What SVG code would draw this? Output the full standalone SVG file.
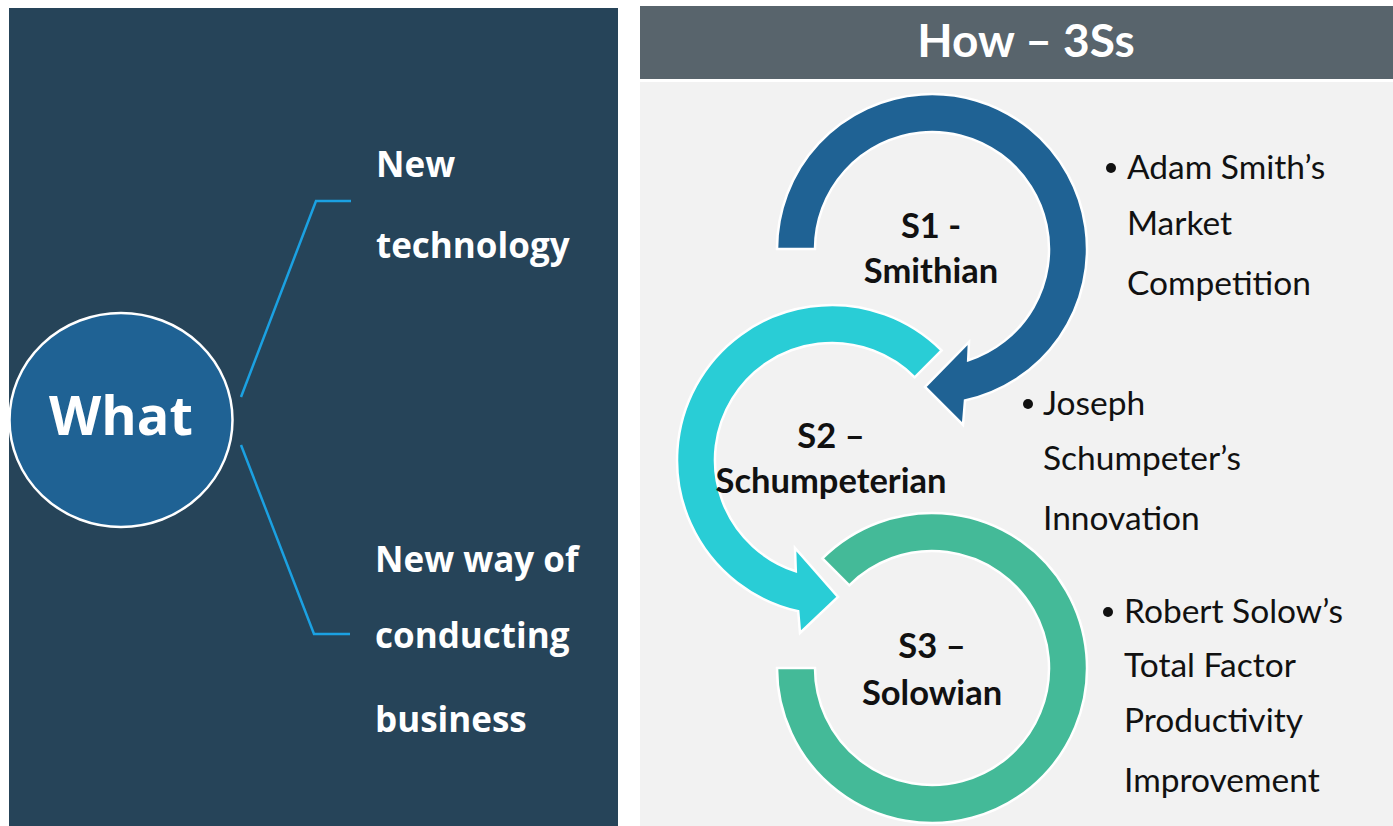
<svg xmlns="http://www.w3.org/2000/svg" width="1393" height="826" viewBox="0 0 1393 826">
<style>
.lt{font-family:"Open Sans","DejaVu Sans",sans-serif;font-weight:700;fill:#fff;font-size:35px}
.hd{font-family:Lato,"Liberation Sans",sans-serif;font-weight:700;fill:#fff;font-size:46px}
.lb{font-family:Lato,"Liberation Sans",sans-serif;font-weight:700;fill:#111;font-size:34.5px;text-anchor:middle}
.bt{font-family:Lato,"Liberation Sans",sans-serif;font-weight:400;fill:#111;font-size:33.5px}
.arr{stroke:#fff;stroke-width:2.5;stroke-linejoin:miter}
.con{fill:none;stroke:#1BA1E2;stroke-width:2.5}
</style>
<rect width="1393" height="826" fill="#fff"/>
<rect x="9" y="8" width="609" height="818" fill="#264459"/>
<rect x="640" y="82" width="753" height="744" fill="#F2F2F2"/>
<g id="header">
<rect x="640" y="6" width="753" height="73" fill="#58646C"/>
<text class="hd" x="1026" y="57" text-anchor="middle">How – 3Ss</text>
</g>
<g id="connectors">
<polyline class="con" points="241,397 316,201 351,201"/>
<polyline class="con" points="241,445 314,634 350,634"/>
</g>
<g id="what">
<ellipse cx="121" cy="420" rx="111.5" ry="107" fill="#1F6294" stroke="#fff" stroke-width="2.5"/>
<text class="lt" x="121" y="435" text-anchor="middle" style="font-size:54px">What</text>
</g>
<g id="new-technology">
<text class="lt" x="376" y="177">New</text>
<text class="lt" x="376" y="258">technology</text>
</g>
<g id="new-way">
<text class="lt" x="375" y="572">New way of</text>
<text class="lt" x="375" y="648">conducting</text>
<text class="lt" x="375" y="732">business</text>
</g>
<g id="s1">
<path class="arr" fill="#1F6294" d="M777,249 A155,155 0 1 1 965,400.5 L963,425 L925,387 L969,342 L968.2,360.3 A117,117 0 1 0 815,249 Z"/>
<text class="lb" x="931" y="238">S1 -</text>
<text class="lb" x="931" y="283">Smithian</text>
</g>
<g id="s2">
<path class="arr" fill="#29CDD6" d="M941.6,350.4 A155,155 0 1 0 798.2,611.3 L800,633 L838,597 L795,548 L795.8,571.3 A117,117 0 1 1 914.7,377.3 Z"/>
<text class="lb" x="831" y="448">S2 –</text>
<text class="lb" x="831" y="493">Schumpeterian</text>
</g>
<g id="s3">
<path class="arr" fill="#44BA98" d="M777,668 A155,155 0 1 0 822.4,558.4 L849.3,585.3 A117,117 0 1 1 815,668 Z"/>
<text class="lb" x="932" y="658">S3 –</text>
<text class="lb" x="932" y="705">Solowian</text>
</g>
<g id="smith-notes">
<circle cx="1111" cy="168" r="5" fill="#111"/>
<text class="bt" x="1127" y="179">Adam Smith’s</text>
<text class="bt" x="1127" y="235">Market</text>
<text class="bt" x="1127" y="295">Competition</text>
</g>
<g id="schumpeter-notes">
<circle cx="1028" cy="404" r="5" fill="#111"/>
<text class="bt" x="1043" y="415">Joseph</text>
<text class="bt" x="1043" y="470">Schumpeter’s</text>
<text class="bt" x="1043" y="530">Innovation</text>
</g>
<g id="solow-notes">
<circle cx="1108" cy="612" r="5" fill="#111"/>
<text class="bt" x="1124" y="623">Robert Solow’s</text>
<text class="bt" x="1124" y="677">Total Factor</text>
<text class="bt" x="1124" y="732">Productivity</text>
<text class="bt" x="1124" y="792">Improvement</text>
</g>
</svg>
